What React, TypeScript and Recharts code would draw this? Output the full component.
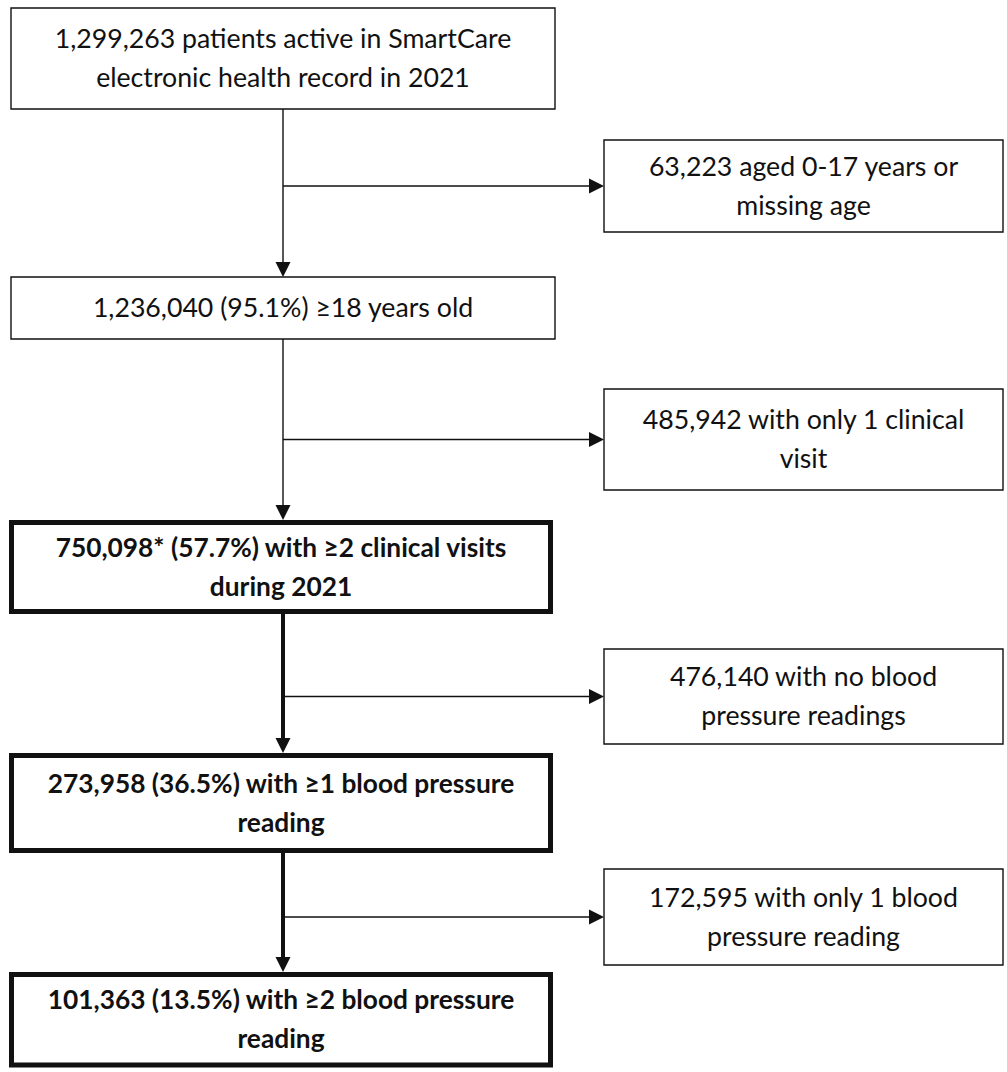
import React from "react";
import {
  ComposedChart,
  XAxis,
  YAxis,
  ReferenceArea,
  ReferenceLine,
  ReferenceDot,
} from "recharts";

// ---- content (text of each step) ----
const mainStepLabels: string[][] = [
  ["1,299,263 patients active in SmartCare", "electronic health record in 2021"],
  ["1,236,040 (95.1%) \u226518 years old"],
  ["750,098* (57.7%) with \u22652 clinical visits", "during 2021"],
  ["273,958 (36.5%) with \u22651 blood pressure", "reading"],
  ["101,363 (13.5%) with \u22652 blood pressure", "reading"],
];
const excludedLabels: string[][] = [
  ["63,223 aged 0-17 years or", "missing age"],
  ["485,942 with only 1 clinical", "visit"],
  ["476,140 with no blood", "pressure readings"],
  ["172,595 with only 1 blood", "pressure reading"],
];
const mainStepBold: boolean[] = [false, false, true, true, true];

// ---- layout (positions / sizes / styles) ----
const W = 1007;
const H = 1072;
const SPINE_X = 283;
const MAIN_X: [number, number] = [11, 555];
const MAIN_X_THICK: [number, number] = [11.5, 550.5];
const SIDE_X: [number, number] = [604, 1003];
const mainY: [number, number][] = [
  [8, 109],
  [277, 339],
  [522.5, 611.5],
  [755.5, 850.5],
  [974.5, 1065],
];
const mainTopOuter: number[] = [8, 277, 520, 753, 972];
const mainBottomOuter: number[] = [109, 339, 614, 853, 1067];
const sideY: [number, number][] = [
  [140, 232],
  [389, 490],
  [649, 744],
  [869, 965],
];
const THIN = 1.4;
const THICK_BORDER = 5;
const THICK_LINE = 4;
const INK = "#111";
const FONT = "Lato, 'Open Sans', sans-serif";
const FONT_SIZE = 26.7;
const FONT_SIZE_BOLD = 26.3;
const LINE_H = 39;
const ARROW_LEN = 15;
const ARROW_HALF = 7.5;

const makeLabel = (lines: string[], bold: boolean) => (props: any) => {
  const vb = props.viewBox || {};
  const cx = vb.x + vb.width / 2;
  const cy = vb.y + vb.height / 2;
  return (
    <text
      textAnchor="middle"
      fontFamily={FONT}
      fontSize={bold ? FONT_SIZE_BOLD : FONT_SIZE}
      fontWeight={bold ? 700 : 400}
      fill={INK}
    >
      {lines.map((l, i) => (
        <tspan
          key={i}
          x={cx}
          y={cy + (i - (lines.length - 1) / 2) * LINE_H}
          dy="0.35em"
        >
          {l}
        </tspan>
      ))}
    </text>
  );
};

const DownArrow = (props: any) => {
  const { cx, cy } = props;
  return (
    <path
      d={`M${cx},${cy} L${cx - ARROW_HALF},${cy - ARROW_LEN} L${cx + ARROW_HALF},${cy - ARROW_LEN} Z`}
      fill={INK}
      stroke="none"
    />
  );
};
const RightArrow = (props: any) => {
  const { cx, cy } = props;
  return (
    <path
      d={`M${cx},${cy} L${cx - ARROW_LEN},${cy - ARROW_HALF} L${cx - ARROW_LEN},${cy + ARROW_HALF} Z`}
      fill={INK}
      stroke="none"
    />
  );
};

export default function App() {
  return (
    <div
      style={{
        position: "absolute",
        left: 0,
        top: 0,
        width: W,
        height: H,
        background: "#fff",
      }}
    >
      <ComposedChart
        width={W}
        height={H}
        margin={{ top: 0, right: 0, bottom: 0, left: 0 }}
      >
        <XAxis type="number" dataKey="x" domain={[0, W]} hide allowDataOverflow />
        <YAxis type="number" dataKey="y" domain={[0, H]} reversed hide allowDataOverflow />

        {/* spine connectors */}
        {mainStepLabels.slice(0, -1).map((_, i) => (
          <ReferenceLine
            key={`spine-${i}`}
            segment={[
              { x: SPINE_X, y: mainBottomOuter[i] },
              { x: SPINE_X, y: mainTopOuter[i + 1] - ARROW_LEN + 1 },
            ]}
            stroke={INK}
            strokeWidth={i >= 2 ? THICK_LINE : THIN}
            ifOverflow="visible"
          />
        ))}
        {/* branch connectors */}
        {excludedLabels.map((_, i) => {
          const y = (sideY[i][0] + sideY[i][1]) / 2;
          return (
            <ReferenceLine
              key={`branch-${i}`}
              segment={[
                { x: SPINE_X, y },
                { x: SIDE_X[0] - ARROW_LEN + 1, y },
              ]}
              stroke={INK}
              strokeWidth={THIN}
              ifOverflow="visible"
            />
          );
        })}

        {/* main boxes */}
        {mainStepLabels.map((lines, i) => {
          const bold = mainStepBold[i];
          const xs = bold ? MAIN_X_THICK : MAIN_X;
          return (
            <ReferenceArea
              key={`main-${i}`}
              x1={xs[0]}
              x2={xs[1]}
              y1={mainY[i][0]}
              y2={mainY[i][1]}
              fill="#fff"
              fillOpacity={1}
              stroke={INK}
              strokeWidth={bold ? THICK_BORDER : THIN}
              ifOverflow="visible"
              label={makeLabel(lines, bold)}
            />
          );
        })}
        {/* exclusion boxes */}
        {excludedLabels.map((lines, i) => (
          <ReferenceArea
            key={`side-${i}`}
            x1={SIDE_X[0]}
            x2={SIDE_X[1]}
            y1={sideY[i][0]}
            y2={sideY[i][1]}
            fill="#fff"
            fillOpacity={1}
            stroke={INK}
            strokeWidth={THIN}
            ifOverflow="visible"
            label={makeLabel(lines, false)}
          />
        ))}

        {/* arrowheads */}
        {mainStepLabels.slice(1).map((_, i) => (
          <ReferenceDot
            key={`ad-${i}`}
            x={SPINE_X}
            y={mainTopOuter[i + 1]}
            r={1}
            ifOverflow="visible"
            shape={DownArrow}
          />
        ))}
        {excludedLabels.map((_, i) => (
          <ReferenceDot
            key={`ar-${i}`}
            x={SIDE_X[0]}
            y={(sideY[i][0] + sideY[i][1]) / 2}
            r={1}
            ifOverflow="visible"
            shape={RightArrow}
          />
        ))}
      </ComposedChart>
    </div>
  );
}
